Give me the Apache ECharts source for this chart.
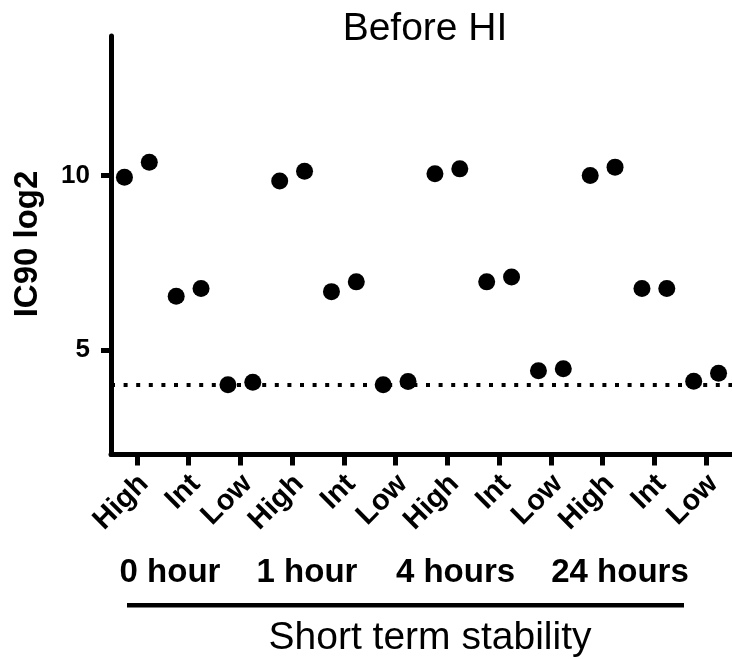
<!DOCTYPE html>
<html>
<head>
<meta charset="utf-8">
<script src="https://cdn.jsdelivr.net/npm/echarts@6/dist/echarts.min.js"></script>
<style>
  html, body { margin: 0; padding: 0; background: #fff; }
  #chart { width: 732px; height: 659px; }
</style>
</head>
<body>
<div id="chart"></div>
<script>
// Time points and concentration levels of the stability study
const timePoints = ['0 hour', '1 hour', '4 hours', '24 hours'];
const levels = ['High', 'Int', 'Low'];

// IC90 (log2) for the two replicates of each time point / level
const replicate1 = [9.95, 6.54, 4.00, 9.84, 6.67, 4.00, 10.05, 6.95, 4.40, 10.00, 6.76, 4.10];
const replicate2 = [10.38, 6.76, 4.07, 10.12, 6.95, 4.09, 10.19, 7.09, 4.46, 10.24, 6.76, 4.33];

// Y axis ticks and the detection cut-off line
const yTickValues = [5, 10];
const cutoff = 4;

const categories = [];
timePoints.forEach(() => levels.forEach(l => categories.push(l)));

// horizontal spread of the two replicates inside a category band
const spread = 0.24;
const points = [];
replicate1.forEach((v, i) => points.push([i - spread, v]));
replicate2.forEach((v, i) => points.push([i + spread, v]));

const family = 'Liberation Sans, Arial, sans-serif';
const bold = { fontFamily: family, fontWeight: 'bold', color: '#000' };

const chart = echarts.init(document.getElementById('chart'), null, { renderer: 'canvas' });
chart.setOption({
  animation: false,
  backgroundColor: '#fff',
  title: {
    text: 'Before HI',
    left: 420,
    top: 5,
    textAlign: 'center',
    textStyle: { fontFamily: family, fontWeight: 'normal', fontSize: 39, color: '#000' }
  },
  grid: { left: 111, right: -6, top: 36, bottom: 204.5, containLabel: false },
  xAxis: [
    {
      type: 'category',
      data: categories,
      boundaryGap: true,
      axisLine: { show: true, onZero: false, lineStyle: { color: '#000', width: 5 } },
      axisTick: { show: true, alignWithLabel: true, length: 11, lineStyle: { color: '#000', width: 5 } },
      axisLabel: Object.assign({ show: true, rotate: 45, fontSize: 29, margin: 32, interval: 0, padding: [0, -10, 0, 0] }, bold),
      splitLine: { show: false }
    },
    {
      type: 'value',
      min: -0.5,
      max: categories.length - 0.5,
      show: false
    }
  ],
  yAxis: {
    type: 'value',
    min: 2,
    max: 14,
    axisLine: { show: true, onZero: false, lineStyle: { color: '#000', width: 5 } },
    axisTick: { show: true, length: 10, customValues: yTickValues, lineStyle: { color: '#000', width: 5 } },
    axisLabel: Object.assign({ fontSize: 26, margin: 21, customValues: yTickValues }, bold),
    splitLine: { show: false }
  },
  series: [
    {
      type: 'scatter',
      xAxisIndex: 1,
      yAxisIndex: 0,
      data: points,
      symbol: 'circle',
      symbolSize: 17,
      itemStyle: { color: '#000', opacity: 1 },
      z: 3,
      markLine: {
        silent: true,
        symbol: ['none', 'none'],
        label: { show: false },
        lineStyle: { color: '#000', width: 4, type: [4, 8.6], opacity: 1 },
        data: [{ yAxis: cutoff }],
        z: 2
      }
    }
  ],
  graphic: [
    {
      type: 'text',
      x: 27.5, y: 244,
      rotation: Math.PI / 2,
      style: { text: 'IC90 log2', fontSize: 33, fontFamily: family, fontWeight: 'bold', align: 'center', verticalAlign: 'middle', fill: '#000' }
    },
    ...timePoints.map((t, i) => ({
      type: 'text',
      x: [170, 307, 455.5, 620][i], y: 573,
      style: { text: t, fontSize: 33, fontFamily: family, fontWeight: 'bold', align: 'center', verticalAlign: 'middle', fill: '#000' }
    })),
    {
      type: 'rect',
      shape: { x: 127, y: 603, width: 557, height: 4.5 },
      style: { fill: '#000' }
    },
    {
      type: 'text',
      x: 430, y: 638,
      style: { text: 'Short term stability', fontSize: 39, fontFamily: family, align: 'center', verticalAlign: 'middle', fill: '#000' }
    }
  ]
});
</script>
</body>
</html>
